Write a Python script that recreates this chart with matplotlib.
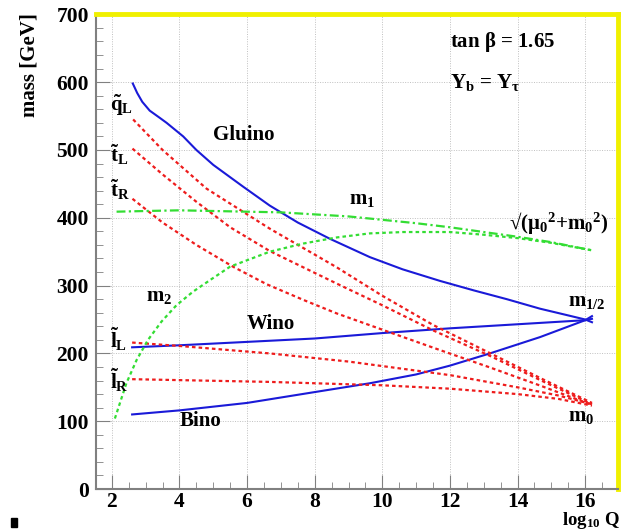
import matplotlib.pyplot as plt
from matplotlib.patches import Rectangle

# values (x = log10 Q, y = mass in GeV)
gluino_x = [2.62, 2.75, 2.9, 3.12, 3.4, 3.62, 4.11, 4.5, 5.0, 5.88, 6.67, 7.5, 8.45, 9.63, 10.6, 11.7, 12.7, 13.68, 14.66, 15.5, 16.0, 16.2]
gluino_y = [598, 584, 571, 558, 548, 540, 520, 500, 478, 446, 418, 393, 369, 342, 324, 307, 293, 280, 266, 256, 250, 246]

wino_x = [2.6, 4, 6, 8, 10, 12, 14, 16, 16.2]
wino_y = [209, 212, 217, 222, 230, 237, 243, 249, 251]

bino_x = [2.6, 4, 6, 8, 9.63, 11, 12, 13.18, 14.66, 16, 16.2]
bino_y = [110, 116, 127, 143, 156, 169, 182, 200, 224, 249, 255]

qL_x = [2.63, 3.5, 4.8, 6.67, 8.65, 10, 11.5, 13.2, 14.7, 16.2]
qL_y = [545, 500, 443, 384, 327, 285, 242, 200, 163, 127]

tL_x = [2.61, 3.5, 4.49, 5.5, 6.67, 8.65, 10, 11.5, 13.2, 14.7, 16.2]
tL_y = [502, 464, 424, 386, 351, 303, 271, 234, 196, 160, 125]

tR_x = [2.61, 3.5, 4.5, 5.58, 6.58, 7.66, 8.65, 10, 11.7, 13.2, 14.7, 16.2]
tR_y = [428, 393, 360, 328, 302, 279, 259, 235, 205, 179, 152, 124]

lL_x = [2.6, 4, 6.67, 9, 12, 14, 15.2, 16.2]
lL_y = [216, 211, 200, 188, 168, 150, 138, 125]

lR_x = [2.6, 6.67, 10, 12, 14, 15.2, 16.2]
lR_y = [162, 158, 153, 148, 140, 133, 123]

m1_x = [2.14, 3, 4, 5, 6, 7, 8, 9, 10, 11, 12, 13, 14, 15, 16.2]
m1_y = [409, 410, 411, 410, 409, 408, 405, 402, 397, 392, 386, 379, 372, 364, 352]

m2_x = [2.09, 2.43, 2.73, 3.07, 3.47, 3.91, 4.4, 4.9, 5.5, 6.67, 7.66, 8.65, 9.63, 10.62, 12, 13, 14, 15, 16.2]
m2_y = [104, 156, 190, 220, 247, 271, 291, 308, 328, 350, 362, 371, 377, 379, 379, 375, 370, 363, 352]

xticks = [2, 4, 6, 8, 10, 12, 14, 16]
yticks = [0, 100, 200, 300, 400, 500, 600, 700]

plt.rcParams['font.family'] = ['Liberation Serif', 'DejaVu Serif']
plt.rcParams['mathtext.fontset'] = 'custom'
plt.rcParams['mathtext.rm'] = 'Liberation Serif:bold'
plt.rcParams['mathtext.it'] = 'Liberation Serif:bold'
plt.rcParams['mathtext.bf'] = 'Liberation Serif:bold'

fig = plt.figure(figsize=(6.23, 5.31), dpi=100)
ax = fig.add_axes([0.154, 0.079, 0.838, 0.894])

blue = '#1a1ad8'
red = '#ee1c1c'
green = '#33dd33'
dots = (0, (1.6, 1.4))
dashdot = (0, (4, 1.5, 1, 1.5))

for xs, ys in [(gluino_x, gluino_y), (wino_x, wino_y), (bino_x, bino_y)]:
    ax.plot(xs, ys, color=blue, lw=1.5)
for xs, ys in [(qL_x, qL_y), (tL_x, tL_y), (tR_x, tR_y), (lL_x, lL_y), (lR_x, lR_y)]:
    ax.plot(xs, ys, color=red, lw=1.6, linestyle=dots)
ax.plot(m1_x, m1_y, color=green, lw=1.6, linestyle=dashdot)
ax.plot(m2_x, m2_y, color=green, lw=1.6, linestyle=dots)

ax.set_xlim(1.53, 16.97)
ax.set_ylim(0, 700)
ax.set_xticks(xticks)
ax.set_yticks(yticks)
ax.set_xticks([v / 2 for v in range(4, 34)], minor=True)
ax.set_yticks(range(0, 701, 20), minor=True)
ax.grid(True, which='major', color='#c0c0c0', linestyle=(0, (1, 1.5)), lw=0.7)
ax.tick_params(which='both', direction='in', color='#808080', top=False, right=False, labelsize=15.5, pad=5)
ax.tick_params(axis='x', pad=2)
ax.tick_params(which='major', length=10)
ax.tick_params(which='minor', length=5)
for lab in ax.get_xticklabels() + ax.get_yticklabels():
    lab.set_fontweight('bold')

for s in ['left', 'bottom']:
    ax.spines[s].set_color('#808080')
    ax.spines[s].set_linewidth(1.5)
for s in ['top', 'right']:
    ax.spines[s].set_color('#f0f000')
    ax.spines[s].set_linewidth(3.5)

fs = 15
ax.text(12.0, 659, r'tan $\beta$ = 1.65', fontsize=fs, fontweight='bold', va='center')
ax.text(12.0, 600, r'Y$_\mathrm{b}$ = Y$_\tau$', fontsize=fs, fontweight='bold', va='center')
ax.text(5.0, 522, 'Gluino', fontsize=fs, fontweight='bold', va='center')
ax.text(9.0, 428, r'm$_\mathrm{1}$', fontsize=fs, fontweight='bold', va='center')
ax.text(13.75, 392, r'√(μ$_\mathrm{0}$$^\mathrm{2}$+m$_\mathrm{0}$$^\mathrm{2}$)', fontsize=fs,
        fontweight='bold', va='center')
ax.text(3.0, 285, r'm$_\mathrm{2}$', fontsize=fs, fontweight='bold', va='center')
ax.text(6.0, 244, 'Wino', fontsize=fs, fontweight='bold', va='center')
ax.text(4.0, 100, 'Bino', fontsize=fs, fontweight='bold', va='center')
ax.text(15.5, 278, r'm$_\mathrm{1/2}$', fontsize=fs, fontweight='bold', va='center')
ax.text(15.5, 108, r'm$_\mathrm{0}$', fontsize=fs, fontweight='bold', va='center')
ax.text(1.95, 565, r'$\tilde{\mathrm{q}}_\mathrm{L}$', fontsize=fs, va='center')
ax.text(1.95, 493, r'$\tilde{\mathrm{t}}_\mathrm{L}$', fontsize=fs, va='center')
ax.text(1.95, 441, r'$\tilde{\mathrm{t}}_\mathrm{R}$', fontsize=fs, va='center')
ax.text(1.95, 221, r'$\tilde{\mathrm{l}}_\mathrm{L}$', fontsize=fs, va='center')
ax.text(1.95, 160, r'$\tilde{\mathrm{l}}_\mathrm{R}$', fontsize=fs, va='center')

fig.text(0.048, 0.975, 'mass [GeV]', rotation=90, fontsize=15, fontweight='bold', ha='center', va='top')
fig.text(0.995, 0.011, r'log$_{10}$ Q', fontsize=13.5, fontweight='bold', ha='right', va='baseline')
fig.patches.append(Rectangle((0.017, 0.008), 0.011, 0.016, transform=fig.transFigure, color='black'))

fig.savefig('out.png', dpi=100)
